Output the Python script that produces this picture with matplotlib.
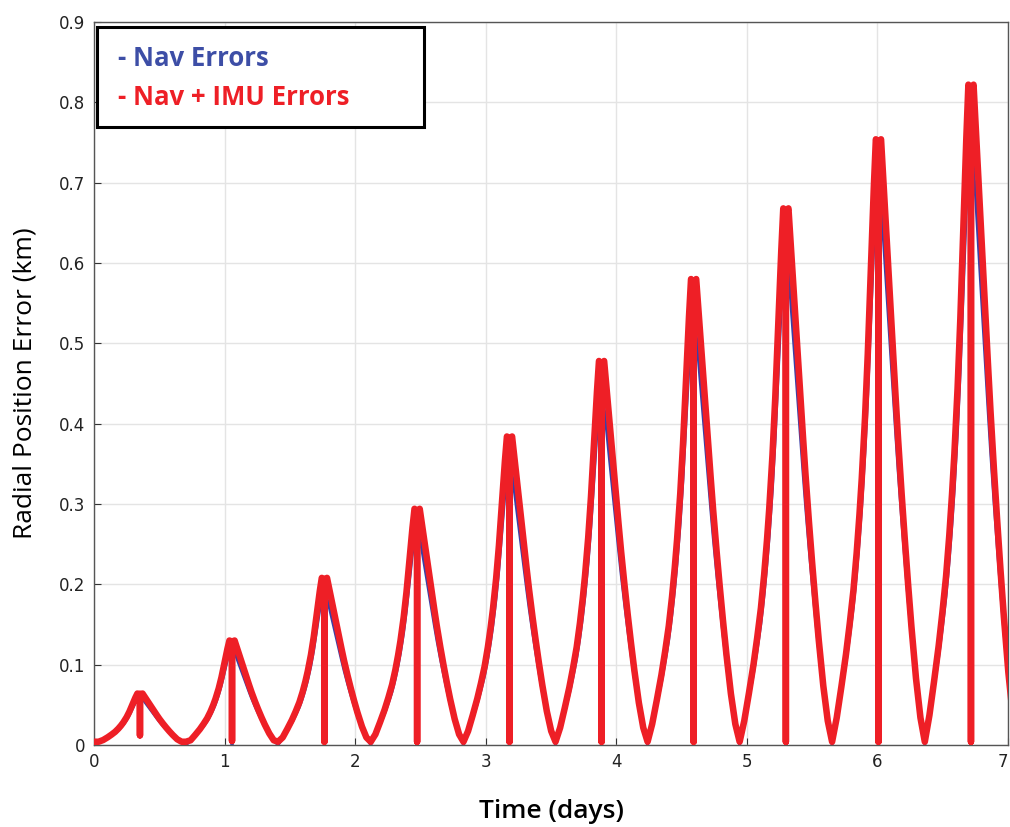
import numpy as np
import matplotlib
matplotlib.use("Agg")
from matplotlib import pyplot as plt
from matplotlib.patches import Rectangle

# lobe boundaries (days), read at the minima of the curves
lobe_starts = [0.0, 0.705, 1.41, 2.12, 2.83, 3.535, 4.24, 4.945, 5.653, 6.363]
lobe_ends = [0.705, 1.41, 2.12, 2.83, 3.535, 4.24, 4.945, 5.653, 6.363, 7.07]

# peak heights (km)
red_peaks = [0.064, 0.130, 0.208, 0.294, 0.384, 0.478, 0.580, 0.668, 0.754, 0.822]
blue_peaks = [0.057, 0.115, 0.183, 0.259, 0.338, 0.421, 0.512, 0.590, 0.675, 0.724]

# bottom of the vertical drop at each peak (km)
red_spike_low = [0.012, 0.005, 0.004, 0.004, 0.004, 0.004, 0.004, 0.004, 0.004, 0.004]
blue_spike_low = [0.010, 0.0, 0.0, 0.0, 0.0, 0.0, 0.0, 0.0, 0.0, 0.0]

# shape of one lobe: fraction of lobe width -> fraction of peak
lobe_phase = [0.0, 0.05, 0.10, 0.15, 0.19, 0.23, 0.265, 0.295, 0.32, 0.355, 0.385,
              0.41, 0.43, 0.45, 0.472, 0.5, 0.5, 0.5, 0.528, 0.55, 0.575, 0.604,
              0.63, 0.658, 0.685, 0.712, 0.75, 0.784, 0.82, 0.856, 0.905, 0.953, 1.0]
lobe_shape = [0.0, 0.045, 0.096, 0.15, 0.200, 0.255, 0.317, 0.38, 0.44, 0.54, 0.646,
              0.75, 0.835, 0.92, 1.0, 0.99, None, 0.99, 1.0, 0.94, 0.87, 0.79,
              0.72, 0.646, 0.575, 0.505, 0.415, 0.34, 0.265, 0.195, 0.11, 0.045, 0.0]
spike_idx = 16

red_floor = 0.004
blue_floor = 0.0

x_ticks = [0, 1, 2, 3, 4, 5, 6, 7]
y_ticks = [0, 0.1, 0.2, 0.3, 0.4, 0.5, 0.6, 0.7, 0.8, 0.9]
y_ticklabels = ["0", "0.1", "0.2", "0.3", "0.4", "0.5", "0.6", "0.7", "0.8", "0.9"]


def build(peaks, spike_low, floor):
    ts, vs = [], []
    for a, b, pk, low in zip(lobe_starts, lobe_ends, peaks, spike_low):
        for k, (ph, s) in enumerate(zip(lobe_phase, lobe_shape)):
            ts.append(a + ph * (b - a))
            if k == spike_idx:
                vs.append(low)
            else:
                vs.append(max(s * pk, floor))
    return np.array(ts), np.array(vs)


t_blue, v_blue = build(blue_peaks, blue_spike_low, blue_floor)
t_red, v_red = build(red_peaks, red_spike_low, red_floor)

fig = plt.figure(figsize=(10.10, 8.27), dpi=100)
ax = fig.add_axes([0.093, 0.0992, 0.905, 0.8742])

ax.plot(t_blue, v_blue, color="#3b3fa6", lw=2.0, zorder=2)
ax.plot(t_red, v_red, color="#ee1f26", lw=4.7, zorder=3)

ax.set_xlim(0, 7)
ax.set_ylim(0, 0.9)
ax.set_xticks(x_ticks)
ax.set_yticks(y_ticks)
ax.set_yticklabels(y_ticklabels)
ax.grid(True, color="#e4e4e4", lw=1.0)
ax.set_axisbelow(True)
ax.tick_params(direction="in", length=5, width=0.8, colors="#333333",
               labelsize=12, labelcolor="#222222", pad=6)
for lab in ax.get_xticklabels() + ax.get_yticklabels():
    lab.set_family("DejaVu Sans")
# last x label sits on the figure edge, keep it inside
ax.get_xticklabels()[-1].set_horizontalalignment("right")
for sp in ax.spines.values():
    sp.set_color("#555555")
    sp.set_linewidth(1.0)

ax.set_xlabel("Time (days)", family="Open Sans", fontsize=19, fontweight="semibold",
              labelpad=20)
ax.set_ylabel("Radial Position Error (km)", family="Open Sans", fontsize=19)
ax.yaxis.set_label_coords(-0.062, 0.5)

# legend box drawn by hand
ax.add_patch(Rectangle((0.0035, 0.855), 0.358, 0.138, transform=ax.transAxes,
                       facecolor="white", edgecolor="black", lw=2.2, zorder=5))
ax.text(0.026, 0.950, "- Nav Errors", transform=ax.transAxes, color="#3d4ea6",
        family="Open Sans", fontsize=18.5, fontweight="bold", va="center", zorder=6)
ax.text(0.026, 0.896, "- Nav + IMU Errors", transform=ax.transAxes, color="#ee1f26",
        family="Open Sans", fontsize=18.5, fontweight="bold", va="center", zorder=6)

fig.savefig("out.png", dpi=100)
